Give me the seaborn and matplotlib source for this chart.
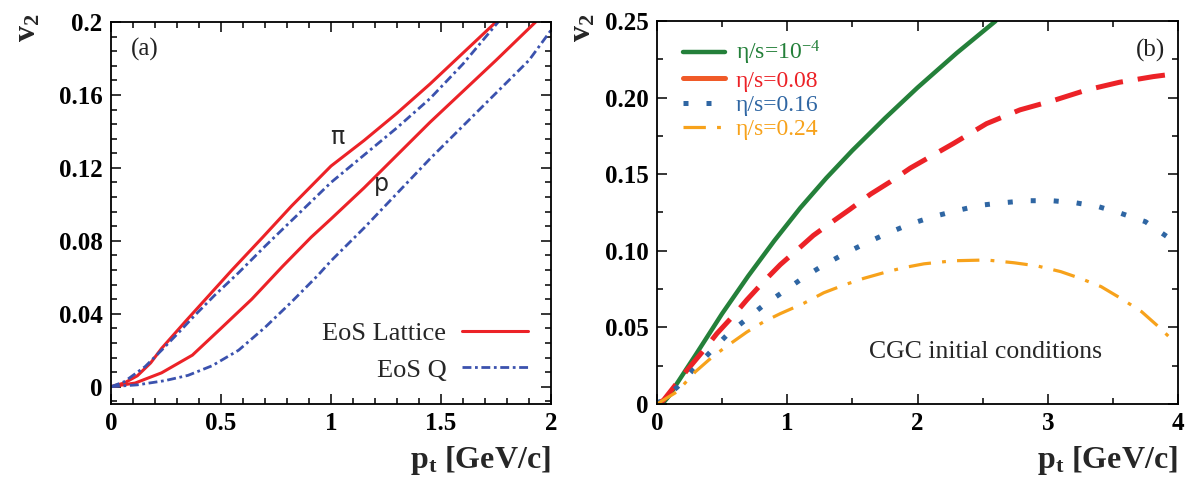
import pandas as pd
import matplotlib

matplotlib.use('Agg')
import matplotlib.pyplot as plt
import seaborn as sns
from matplotlib.lines import Line2D
from matplotlib.ticker import MultipleLocator

# ---- panel (a): v2(pt) for pions and protons, two EoS
pt_pi_lat = [0, 0.06, 0.12, 0.18, 0.23, 0.34, 0.43, 0.55, 0.69, 0.82, 1.0, 1.15, 1.3, 1.45, 1.6, 1.75]
v2_pi_lat = [0, 0.002, 0.006, 0.013, 0.021, 0.036, 0.048, 0.064, 0.082, 0.099, 0.121, 0.135, 0.150, 0.166, 0.183, 0.2]
pt_pi_q = [0, 0.06, 0.155, 0.23, 0.31, 0.38, 0.47, 0.58, 0.70, 0.82, 0.94, 1.0, 1.15, 1.3, 1.45, 1.6, 1.76]
v2_pi_q = [0, 0.0027, 0.011, 0.020, 0.030, 0.039, 0.050, 0.0625, 0.077, 0.091, 0.105, 0.112, 0.127, 0.142, 0.158, 0.177, 0.2]
pt_p_lat = [0, 0.11, 0.23, 0.37, 0.50, 0.64, 0.78, 0.91, 1.0, 1.15, 1.3, 1.45, 1.6, 1.75, 1.93]
v2_p_lat = [0, 0.002, 0.0076, 0.0173, 0.032, 0.048, 0.066, 0.082, 0.092, 0.109, 0.127, 0.145, 0.162, 0.179, 0.2]
pt_p_q = [0, 0.12, 0.245, 0.35, 0.46, 0.58, 0.70, 0.82, 0.94, 1.0, 1.15, 1.3, 1.45, 1.6, 1.75, 1.9, 2.0]
v2_p_q = [0, 0.001, 0.0033, 0.0062, 0.0115, 0.020, 0.0325, 0.0464, 0.061, 0.069, 0.087, 0.106, 0.125, 0.143, 0.161, 0.179, 0.1955]

# ---- panel (b): CGC initial conditions, different eta/s
pt_e0 = [0, 0.05, 0.1, 0.154, 0.3, 0.5, 0.7, 0.9, 1.1, 1.3, 1.5, 1.75, 2.0, 2.3, 2.6]
v2_e0 = [0, 0.001, 0.006, 0.0135, 0.0325, 0.059, 0.0835, 0.1065, 0.128, 0.1475, 0.1655, 0.1865, 0.2065, 0.229, 0.25]
pt_e08 = [0, 0.05, 0.23, 0.358, 0.46, 0.59, 0.69, 0.82, 0.947, 1.075, 1.2, 1.33, 1.48, 1.64, 1.79,
          1.945, 2.275, 2.53, 2.787, 3.04, 3.30, 3.55, 3.81, 4.0]
v2_e08 = [0, 0.0025, 0.022, 0.035, 0.046, 0.058, 0.068, 0.080, 0.091, 0.1005, 0.11, 0.118, 0.127, 0.137, 0.145,
          0.154, 0.170, 0.183, 0.192, 0.198, 0.205, 0.210, 0.2137, 0.2158]
pt_e16 = [0, 0.154, 0.28, 0.41, 0.537, 0.678, 0.82, 0.97, 1.126, 1.28, 1.446, 1.61, 1.78, 1.945,
          2.12, 2.30, 2.48, 2.66, 2.84, 3.03, 3.21, 3.39, 3.56, 3.75, 3.92]
v2_e16 = [0, 0.0109, 0.0226, 0.034, 0.045, 0.0548, 0.0646, 0.0733, 0.0826, 0.0907, 0.0984, 0.1053, 0.1118, 0.1175,
          0.1223, 0.1262, 0.1297, 0.1314, 0.1327, 0.1327, 0.1314, 0.1288, 0.1245, 0.119, 0.109]
pt_e24 = [0, 0.154, 0.294, 0.397, 0.512, 0.69, 0.82, 0.947, 1.126, 1.28, 1.433, 1.587, 1.766, 1.894, 2.05,
          2.275, 2.53, 2.74, 2.92, 3.1, 3.25, 3.41, 3.56, 3.72, 3.85, 3.97]
v2_e24 = [0, 0.008, 0.021, 0.0287, 0.0363, 0.047, 0.0537, 0.059, 0.0657, 0.0726, 0.0776, 0.082, 0.0863, 0.089, 0.0915,
          0.0935, 0.094, 0.0922, 0.0901, 0.0864, 0.082, 0.0766, 0.069, 0.0603, 0.0505, 0.0407]

eta_labels = ['η/s=10$^{-4}$', 'η/s=0.08', 'η/s=0.16', 'η/s=0.24']

sns.set_style('ticks')
plt.rcParams['font.family'] = ['Liberation Serif', 'DejaVu Serif']
plt.rcParams['mathtext.fontset'] = 'custom'
plt.rcParams['mathtext.rm'] = 'Liberation Serif'
plt.rcParams['mathtext.bf'] = 'Liberation Serif:bold'
plt.rcParams['mathtext.it'] = 'Liberation Serif:italic'

RED = '#ec2227'
BLUE_A = '#3b52ae'
GREEN = '#24803a'
BLUE_B = '#2f66a3'
ORANGE = '#f7a21b'

fig = plt.figure(figsize=(11.89, 4.79), dpi=100)
W, H = 1189, 479
ax1 = fig.add_axes([111 / W, 1 - 404 / H, 440 / W, 382 / H])
ax2 = fig.add_axes([657 / W, 1 - 404 / H, 521 / W, 383 / H])


def style_axes(ax):
    for s in ax.spines.values():
        s.set_linewidth(1.3)
        s.set_color('black')
    ax.tick_params(which='both', direction='in', top=True, right=True, width=1.1, colors='black')
    ax.tick_params(which='major', length=7, pad=6, labelsize=18)
    ax.tick_params(which='minor', length=4)
    for lab in ax.get_xticklabels() + ax.get_yticklabels():
        lab.set_fontweight('bold')


# panel (a)
dash_q = (0, (3.2, 1.3, 1, 1.3))
sns.lineplot(x=pt_pi_lat, y=v2_pi_lat, ax=ax1, color=RED, lw=2.2, sort=False, estimator=None)
sns.lineplot(x=pt_p_lat, y=v2_p_lat, ax=ax1, color=RED, lw=2.2, sort=False, estimator=None)
sns.lineplot(x=pt_pi_q, y=v2_pi_q, ax=ax1, color=BLUE_A, lw=2.0, linestyle=dash_q, sort=False, estimator=None)
sns.lineplot(x=pt_p_q, y=v2_p_q, ax=ax1, color=BLUE_A, lw=2.0, linestyle=dash_q, sort=False, estimator=None)
ax1.set_xlim(0, 2)
ax1.set_ylim(-0.0095, 0.2)
ax1.set_xticks([0, 0.5, 1, 1.5, 2], ['0', '0.5', '1', '1.5', '2'])
ax1.set_yticks([0, 0.04, 0.08, 0.12, 0.16, 0.2], ['0', '0.04', '0.08', '0.12', '0.16', '0.2'])
ax1.xaxis.set_minor_locator(MultipleLocator(0.1))
ax1.yaxis.set_minor_locator(MultipleLocator(0.008))
style_axes(ax1)
ax1.text(0.155, 0.185, '(a)', fontsize=18, ha='center', va='center', color='#222222')
ax1.text(1.03, 0.137, 'π', fontsize=17, ha='center', va='center', family='DejaVu Sans')
ax1.text(1.23, 0.111, 'p', fontsize=17, ha='center', va='center', family='DejaVu Sans')
h_a = [Line2D([], [], color=RED, lw=2.2), Line2D([], [], color=BLUE_A, lw=2.0, linestyle=dash_q)]
ax1.legend(h_a, ['EoS Lattice', 'EoS Q'], loc='lower right', bbox_to_anchor=(0.96, 0.045), frameon=False,
           markerfirst=False, fontsize=19, handlelength=2.5, handletextpad=0.6, labelspacing=0.5,
           borderaxespad=0, borderpad=0.2)
ax1.set_xlabel(r'$\mathbf{p_t}$ [GeV/c]', fontsize=23, fontweight='bold', loc='right', labelpad=6)
ax1.set_ylabel('')

# panel (b)
sns.lineplot(x=pt_e0, y=v2_e0, ax=ax2, color=GREEN, lw=3.2, sort=False, estimator=None)
sns.lineplot(x=pt_e08, y=v2_e08, ax=ax2, color=RED, lw=3.6, linestyle=(0, (5.5, 3)), sort=False, estimator=None)
sns.lineplot(x=pt_e16, y=v2_e16, ax=ax2, color=BLUE_B, lw=3.6, linestyle=(0, (1, 3.6)), sort=False, estimator=None)
sns.lineplot(x=pt_e24, y=v2_e24, ax=ax2, color=ORANGE, lw=2.3, linestyle=(0, (7, 3.5, 1.2, 3.5)), sort=False,
             estimator=None)
ax2.set_xlim(0, 4)
ax2.set_ylim(0, 0.25)
ax2.set_xticks([0, 1, 2, 3, 4], ['0', '1', '2', '3', '4'])
ax2.set_yticks([0, 0.05, 0.10, 0.15, 0.20, 0.25], ['0', '0.05', '0.10', '0.15', '0.20', '0.25'])
ax2.xaxis.set_minor_locator(MultipleLocator(0.5))
ax2.yaxis.set_minor_locator(MultipleLocator(0.025))
style_axes(ax2)
ax2.text(3.79, 0.231, '(b)', fontsize=18, ha='center', va='center', color='#222222')
ax2.text(2.52, 0.034, 'CGC initial conditions', fontsize=18.5, ha='center', va='center')
h_b = [Line2D([], [], color=GREEN, lw=3.2),
       Line2D([], [], color='#f05a28', lw=3.6),
       Line2D([], [], color=BLUE_B, lw=3.6, linestyle=(0, (1, 3.6))),
       Line2D([], [], color=ORANGE, lw=2.3, linestyle=(0, (7, 3.5, 1.2, 3.5)))]
ax2.legend(h_b, eta_labels, loc='upper left', bbox_to_anchor=(0.04, 0.965), frameon=False, fontsize=17,
           labelcolor=[GREEN, RED, BLUE_B, ORANGE], handlelength=1.8, handletextpad=0.45, labelspacing=0.12,
           borderaxespad=0, borderpad=0.2)
ax2.set_xlabel(r'$\mathbf{p_t}$ [GeV/c]', fontsize=23, fontweight='bold', loc='right', labelpad=6)
ax2.set_ylabel('')

fig.text(28 / W, 1 - 28 / H, r'$\mathbf{v_2}$', rotation=90, fontsize=23, ha='center', va='center')
fig.text(583 / W, 1 - 28 / H, r'$\mathbf{v_2}$', rotation=90, fontsize=23, ha='center', va='center')

fig.savefig('out.png', dpi=100)
